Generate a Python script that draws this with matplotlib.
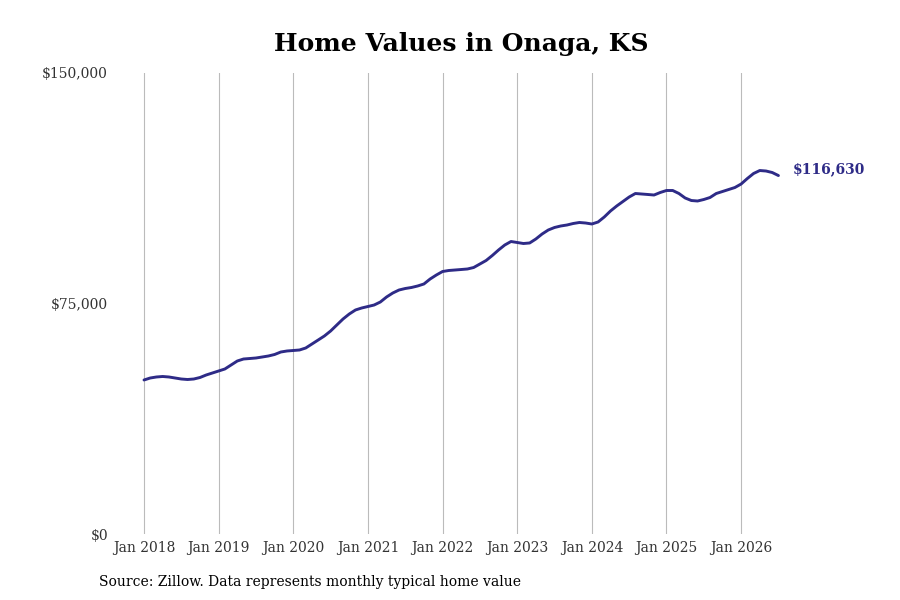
import matplotlib
matplotlib.use("Agg")
import matplotlib.pyplot as plt
from matplotlib.ticker import FuncFormatter

plt.rcParams['font.family'] = 'DejaVu Serif'

# monthly typical home value, Jan 2018 .. Jul 2026
values = [
    50110, 50760, 51090, 51250, 51090, 50760, 50430, 50270, 50430, 50920, 51740, 52390,
    53040, 53690, 54990, 56290, 56940, 57100, 57270, 57590, 57920, 58410, 59220, 59550,
    59710, 59870, 60520, 61820, 63120, 64430, 66050, 68010, 69960, 71580, 72890, 73540,
    74020, 74510, 75490, 77120, 78420, 79390, 79880, 80210, 80700, 81350, 82970, 84270,
    85410, 85740, 85900, 86060, 86230, 86710, 87850, 88990, 90620, 92410, 94030, 95170,
    94850, 94520, 94690, 95990, 97610, 98920, 99730, 100220, 100540, 101030, 101360, 101190,
    100870, 101520, 103150, 105100, 106730, 108190, 109650, 110790, 110630, 110470, 110300, 111120,
    111770, 111770, 110790, 109330, 108510, 108350, 108840, 109490, 110790, 111440, 112090, 112740,
    113880, 115670, 117300, 118270, 118110, 117620, 116630,
]
months = list(range(len(values)))
year_labels = ["Jan 2018", "Jan 2019", "Jan 2020", "Jan 2021", "Jan 2022",
               "Jan 2023", "Jan 2024", "Jan 2025", "Jan 2026"]
year_pos = [12 * i for i in range(len(year_labels))]

line_color = '#2e2b87'

fig = plt.figure(figsize=(9, 6), dpi=100)
ax = fig.add_axes([110 / 900, 1 - 534 / 600, 680 / 900, 461 / 600])

ax.plot(months, values, color=line_color, linewidth=2.1, solid_capstyle='round')
ax.annotate("${:,}".format(values[-1]), xy=(months[-1], values[-1]),
            xytext=(10, 4.5), textcoords='offset points', va='center', ha='left',
            color=line_color, fontsize=10, fontweight='bold', annotation_clip=False)

ax.set_ylim(0, 150000)
ax.set_xlim(-34 / 6.22, 646 / 6.22)
ax.set_yticks([0, 75000, 150000])
ax.yaxis.set_major_formatter(FuncFormatter(lambda v, p: "${:,.0f}".format(v)))
ax.set_xticks(year_pos)
ax.set_xticklabels(year_labels)
ax.tick_params(length=0, labelsize=10, colors='#333333')
ax.tick_params(axis='x', pad=5)
ax.tick_params(axis='y', pad=1.5)
ax.grid(axis='x', color='#bbbbbb', linewidth=0.8)
ax.grid(axis='y', visible=False)
for s in ax.spines.values():
    s.set_visible(False)

fig.text(461 / 900, 1 - 43.5 / 600, "Home Values in Onaga, KS", ha='center', va='center',
         fontsize=18, fontweight='bold', color='black')
fig.text(99 / 900, 1 - 582 / 600, "Source: Zillow. Data represents monthly typical home value",
         ha='left', va='center', fontsize=10, color='black')

fig.savefig("out.png", dpi=100)
